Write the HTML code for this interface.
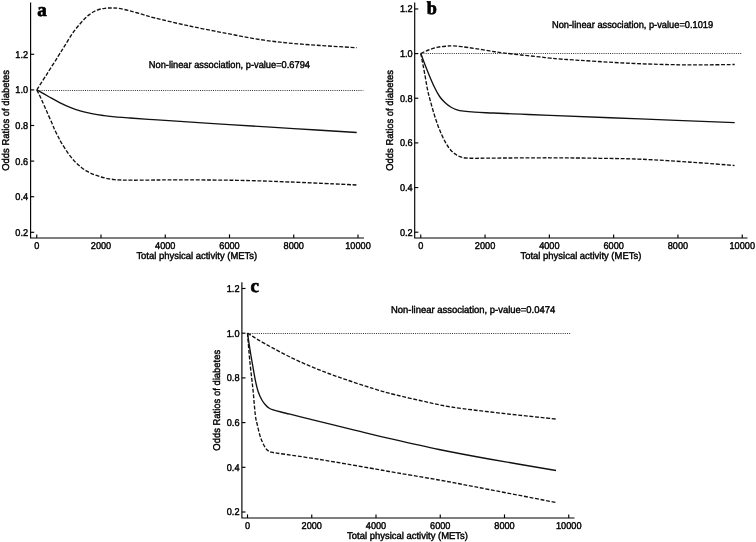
<!DOCTYPE html>
<html lang="en"><head><meta charset="utf-8"><title>Odds ratios of diabetes by total physical activity</title>
<style>html,body{margin:0;padding:0;background:#fff}svg{display:block;filter:grayscale(1)}.ax{stroke:#000;stroke-width:1.15;fill:none;stroke-linecap:butt}.cv{stroke:#111;stroke-width:1.35;fill:none;stroke-linejoin:round}.ds{stroke-dasharray:3.9 1.7}.dt{stroke:#333;stroke-width:1;stroke-dasharray:1 1.17;fill:none}text{font-family:"Liberation Sans",Arial,Helvetica,sans-serif;fill:#000;stroke:#000;stroke-width:0.42px;text-rendering:geometricPrecision}.tk{font-size:9.9px}.tt{font-size:9.9px}.an{font-size:9.9px}.lb{font-family:"Liberation Serif","Times New Roman",serif;font-weight:bold;font-size:19px;fill:#000;stroke-width:0.7px}</style></head><body>
<svg width="756" height="542" viewBox="0 0 756 542">
<rect width="756" height="542" fill="#fff"/>
<g id="panel-a">
<path class="ax" d="M30.60 2.50 V238.00 H364.00"/>
<path class="ax" d="M30.60 54.30 h3.60"/>
<text class="tk" transform="translate(28.10 57.70) scale(0.93 1)" text-anchor="end">1.2</text>
<path class="ax" d="M30.60 89.90 h3.60"/>
<text class="tk" transform="translate(28.10 93.30) scale(0.93 1)" text-anchor="end">1.0</text>
<path class="ax" d="M30.60 125.50 h3.60"/>
<text class="tk" transform="translate(28.10 128.90) scale(0.93 1)" text-anchor="end">0.8</text>
<path class="ax" d="M30.60 161.10 h3.60"/>
<text class="tk" transform="translate(28.10 164.50) scale(0.93 1)" text-anchor="end">0.6</text>
<path class="ax" d="M30.60 196.70 h3.60"/>
<text class="tk" transform="translate(28.10 200.10) scale(0.93 1)" text-anchor="end">0.4</text>
<path class="ax" d="M30.60 232.30 h3.60"/>
<text class="tk" transform="translate(28.10 235.70) scale(0.93 1)" text-anchor="end">0.2</text>
<path class="ax" d="M36.75 238.00 v-3.60"/>
<text class="tk" transform="translate(36.75 249.30) scale(0.93 1)" text-anchor="middle">0</text>
<path class="ax" d="M101.00 238.00 v-3.60"/>
<text class="tk" transform="translate(101.00 249.30) scale(0.93 1)" text-anchor="middle">2000</text>
<path class="ax" d="M165.25 238.00 v-3.60"/>
<text class="tk" transform="translate(165.25 249.30) scale(0.93 1)" text-anchor="middle">4000</text>
<path class="ax" d="M229.50 238.00 v-3.60"/>
<text class="tk" transform="translate(229.50 249.30) scale(0.93 1)" text-anchor="middle">6000</text>
<path class="ax" d="M293.75 238.00 v-3.60"/>
<text class="tk" transform="translate(293.75 249.30) scale(0.93 1)" text-anchor="middle">8000</text>
<path class="ax" d="M358.00 238.00 v-3.60"/>
<text class="tk" transform="translate(358.00 249.30) scale(0.93 1)" text-anchor="middle">10000</text>
<text class="tt" transform="translate(196.78 258.50) scale(0.957 1)" text-anchor="middle">Total physical activity (METs)</text>
<text class="tt" transform="translate(8.60 120.35) rotate(-90) scale(0.957 1)" text-anchor="middle">Odds Ratios of diabetes</text>
<path class="dt" d="M37.25 90.50 H363.30"/>
<path class="cv ds" d="M36.80 89.80 C38.57 87.05 43.88 78.82 47.40 73.30 C50.92 67.78 55.02 61.28 57.90 56.70 C60.78 52.12 62.17 49.83 64.70 45.80 C67.23 41.77 70.32 36.42 73.10 32.50 C75.88 28.58 78.70 25.28 81.40 22.30 C84.10 19.32 86.67 16.63 89.30 14.60 C91.93 12.57 94.58 11.15 97.20 10.10 C99.82 9.05 102.58 8.65 105.00 8.30 C107.42 7.95 109.48 8.00 111.70 8.00 C113.92 8.00 115.25 7.83 118.30 8.30 C121.35 8.77 125.83 9.73 130.00 10.80 C134.17 11.87 139.13 13.50 143.30 14.70 C147.47 15.90 147.38 16.13 155.00 18.00 C162.62 19.87 177.07 23.33 189.00 25.90 C200.93 28.47 214.05 31.02 226.60 33.40 C239.15 35.78 251.73 38.40 264.30 40.20 C276.87 42.00 286.60 42.95 302.00 44.20 C317.40 45.45 347.58 47.12 356.70 47.70"/>
<path class="cv ds" d="M36.80 90.00 C37.52 91.43 39.45 95.05 41.10 98.60 C42.75 102.15 44.85 107.10 46.70 111.30 C48.55 115.50 50.92 120.82 52.20 123.80 C53.48 126.78 53.47 127.17 54.40 129.20 C55.33 131.23 56.68 133.82 57.80 136.00 C58.92 138.18 59.43 139.50 61.10 142.30 C62.77 145.10 65.58 149.67 67.80 152.80 C70.02 155.93 72.18 158.70 74.40 161.10 C76.62 163.50 78.87 165.43 81.10 167.20 C83.33 168.97 85.58 170.43 87.80 171.70 C90.02 172.97 92.18 173.92 94.40 174.80 C96.62 175.68 98.87 176.37 101.10 177.00 C103.33 177.63 105.58 178.17 107.80 178.60 C110.02 179.03 112.18 179.37 114.40 179.60 C116.62 179.83 118.13 179.90 121.10 180.00 C124.07 180.10 127.38 180.18 132.20 180.20 C137.02 180.22 143.88 180.15 150.00 180.10 C156.12 180.05 158.90 179.92 168.90 179.90 C178.90 179.88 196.48 179.88 210.00 180.00 C223.52 180.12 236.67 180.27 250.00 180.60 C263.33 180.93 276.00 181.45 290.00 182.00 C304.00 182.55 322.88 183.40 334.00 183.90 C345.12 184.40 352.92 184.82 356.70 185.00"/>
<path class="cv" d="M36.80 89.90 C38.75 91.00 44.70 94.38 48.50 96.50 C52.30 98.62 55.90 100.75 59.60 102.60 C63.30 104.45 66.98 106.15 70.70 107.60 C74.42 109.05 78.18 110.25 81.90 111.30 C85.62 112.35 89.30 113.18 93.00 113.90 C96.70 114.62 100.40 115.10 104.10 115.60 C107.80 116.10 110.88 116.50 115.20 116.90 C119.52 117.30 124.45 117.60 130.00 118.00 C135.55 118.40 142.02 118.87 148.50 119.30 C154.98 119.73 155.40 119.72 168.90 120.60 C182.40 121.48 208.69 123.27 229.50 124.60 C250.31 125.93 272.55 127.28 293.75 128.60 C314.95 129.92 346.21 131.85 356.70 132.50"/>
<text class="an" x="148.80" y="68.30" textLength="161.2" lengthAdjust="spacingAndGlyphs">Non-linear association, p-value=0.6794</text>
<text class="lb" x="37.30" y="16.10" style="font-size:19px">a</text>
</g>
<g id="panel-b">
<path class="ax" d="M414.70 2.50 V238.00 H747.50"/>
<path class="ax" d="M414.70 8.95 h3.60"/>
<text class="tk" transform="translate(412.70 12.35) scale(0.93 1)" text-anchor="end">1.2</text>
<path class="ax" d="M414.70 53.60 h3.60"/>
<text class="tk" transform="translate(412.70 57.00) scale(0.93 1)" text-anchor="end">1.0</text>
<path class="ax" d="M414.70 98.25 h3.60"/>
<text class="tk" transform="translate(412.70 101.65) scale(0.93 1)" text-anchor="end">0.8</text>
<path class="ax" d="M414.70 142.90 h3.60"/>
<text class="tk" transform="translate(412.70 146.30) scale(0.93 1)" text-anchor="end">0.6</text>
<path class="ax" d="M414.70 187.55 h3.60"/>
<text class="tk" transform="translate(412.70 190.95) scale(0.93 1)" text-anchor="end">0.4</text>
<path class="ax" d="M414.70 232.20 h3.60"/>
<text class="tk" transform="translate(412.70 235.60) scale(0.93 1)" text-anchor="end">0.2</text>
<path class="ax" d="M420.75 238.00 v-3.60"/>
<text class="tk" transform="translate(420.75 249.30) scale(0.93 1)" text-anchor="middle">0</text>
<path class="ax" d="M485.05 238.00 v-3.60"/>
<text class="tk" transform="translate(485.05 249.30) scale(0.93 1)" text-anchor="middle">2000</text>
<path class="ax" d="M549.35 238.00 v-3.60"/>
<text class="tk" transform="translate(549.35 249.30) scale(0.93 1)" text-anchor="middle">4000</text>
<path class="ax" d="M613.65 238.00 v-3.60"/>
<text class="tk" transform="translate(613.65 249.30) scale(0.93 1)" text-anchor="middle">6000</text>
<path class="ax" d="M677.95 238.00 v-3.60"/>
<text class="tk" transform="translate(677.95 249.30) scale(0.93 1)" text-anchor="middle">8000</text>
<path class="ax" d="M742.25 238.00 v-3.60"/>
<text class="tk" transform="translate(742.25 249.30) scale(0.93 1)" text-anchor="middle">10000</text>
<text class="tt" transform="translate(580.90 258.50) scale(0.957 1)" text-anchor="middle">Total physical activity (METs)</text>
<text class="tt" transform="translate(392.80 120.35) rotate(-90) scale(0.957 1)" text-anchor="middle">Odds Ratios of diabetes</text>
<path class="dt" d="M421.25 53.50 H742.20"/>
<path class="cv ds" d="M420.80 53.40 C422.08 52.83 425.67 51.03 428.50 50.00 C431.33 48.97 434.72 47.85 437.80 47.20 C440.88 46.55 444.53 46.32 447.00 46.10 C449.47 45.88 450.12 45.80 452.60 45.90 C455.08 46.00 458.20 46.27 461.90 46.70 C465.60 47.13 470.18 47.80 474.80 48.50 C479.42 49.20 484.97 50.18 489.60 50.90 C494.23 51.62 497.35 52.12 502.60 52.80 C507.85 53.48 514.93 54.32 521.10 55.00 C527.27 55.68 534.78 56.38 539.60 56.90 C544.42 57.42 545.43 57.67 550.00 58.10 C554.57 58.53 553.67 58.63 567.00 59.50 C580.33 60.37 611.17 62.42 630.00 63.30 C648.83 64.18 666.67 64.55 680.00 64.80 C693.33 65.05 700.88 64.85 710.00 64.80 C719.12 64.75 730.58 64.55 734.70 64.50"/>
<path class="cv ds" d="M420.80 53.40 C421.47 56.90 423.67 68.30 424.80 74.40 C425.93 80.50 426.67 85.55 427.60 90.00 C428.53 94.45 429.32 97.08 430.40 101.10 C431.48 105.12 432.87 110.08 434.10 114.10 C435.33 118.12 436.57 121.82 437.80 125.20 C439.03 128.58 440.27 131.62 441.50 134.40 C442.73 137.18 443.97 139.67 445.20 141.90 C446.43 144.13 447.67 146.12 448.90 147.80 C450.13 149.48 451.37 150.83 452.60 152.00 C453.83 153.17 455.07 154.02 456.30 154.80 C457.53 155.58 458.45 156.17 460.00 156.70 C461.55 157.23 463.13 157.73 465.60 158.00 C468.07 158.27 470.18 158.28 474.80 158.30 C479.42 158.32 480.77 158.18 493.30 158.10 C505.83 158.02 532.22 157.77 550.00 157.80 C567.78 157.83 584.67 158.06 600.00 158.30 C615.33 158.54 626.67 158.59 642.00 159.25 C657.33 159.91 676.58 161.21 692.00 162.25 C707.42 163.29 727.42 164.96 734.50 165.50"/>
<path class="cv" d="M420.80 53.40 C421.47 55.22 423.52 60.95 424.80 64.30 C426.08 67.65 426.95 69.80 428.50 73.50 C430.05 77.20 432.25 82.67 434.10 86.50 C435.95 90.33 437.75 93.78 439.60 96.50 C441.45 99.22 443.35 101.05 445.20 102.80 C447.05 104.55 448.85 105.87 450.70 107.00 C452.55 108.13 454.13 108.90 456.30 109.60 C458.47 110.30 460.62 110.77 463.70 111.20 C466.78 111.63 469.87 111.90 474.80 112.20 C479.73 112.50 485.58 112.67 493.30 113.00 C501.02 113.33 511.65 113.80 521.10 114.20 C530.55 114.60 530.18 114.62 550.00 115.40 C569.82 116.18 609.22 117.68 640.00 118.90 C670.78 120.12 718.92 122.07 734.70 122.70"/>
<text class="an" x="552.00" y="28.00" textLength="161.2" lengthAdjust="spacingAndGlyphs">Non-linear association, p-value=0.1019</text>
<text class="lb" x="426.80" y="13.80" style="font-size:18.2px">b</text>
</g>
<g id="panel-c">
<path class="ax" d="M241.90 282.30 V518.00 H574.50"/>
<path class="ax" d="M241.90 288.50 h3.60"/>
<text class="tk" transform="translate(239.50 291.90) scale(0.93 1)" text-anchor="end">1.2</text>
<path class="ax" d="M241.90 333.20 h3.60"/>
<text class="tk" transform="translate(239.50 336.60) scale(0.93 1)" text-anchor="end">1.0</text>
<path class="ax" d="M241.90 377.90 h3.60"/>
<text class="tk" transform="translate(239.50 381.30) scale(0.93 1)" text-anchor="end">0.8</text>
<path class="ax" d="M241.90 422.60 h3.60"/>
<text class="tk" transform="translate(239.50 426.00) scale(0.93 1)" text-anchor="end">0.6</text>
<path class="ax" d="M241.90 467.30 h3.60"/>
<text class="tk" transform="translate(239.50 470.70) scale(0.93 1)" text-anchor="end">0.4</text>
<path class="ax" d="M241.90 512.00 h3.60"/>
<text class="tk" transform="translate(239.50 515.40) scale(0.93 1)" text-anchor="end">0.2</text>
<path class="ax" d="M247.50 518.00 v-3.60"/>
<text class="tk" transform="translate(247.50 529.30) scale(0.93 1)" text-anchor="middle">0</text>
<path class="ax" d="M311.75 518.00 v-3.60"/>
<text class="tk" transform="translate(311.75 529.30) scale(0.93 1)" text-anchor="middle">2000</text>
<path class="ax" d="M376.00 518.00 v-3.60"/>
<text class="tk" transform="translate(376.00 529.30) scale(0.93 1)" text-anchor="middle">4000</text>
<path class="ax" d="M440.25 518.00 v-3.60"/>
<text class="tk" transform="translate(440.25 529.30) scale(0.93 1)" text-anchor="middle">6000</text>
<path class="ax" d="M504.50 518.00 v-3.60"/>
<text class="tk" transform="translate(504.50 529.30) scale(0.93 1)" text-anchor="middle">8000</text>
<path class="ax" d="M568.75 518.00 v-3.60"/>
<text class="tk" transform="translate(568.75 529.30) scale(0.93 1)" text-anchor="middle">10000</text>
<text class="tt" transform="translate(407.52 538.50) scale(0.957 1)" text-anchor="middle">Total physical activity (METs)</text>
<text class="tt" transform="translate(220.40 400.25) rotate(-90) scale(0.957 1)" text-anchor="middle">Odds Ratios of diabetes</text>
<path class="dt" d="M248.00 333.50 H570.20"/>
<path class="cv ds" d="M247.50 333.10 C249.28 334.22 253.95 337.30 258.20 339.80 C262.45 342.30 267.43 345.10 273.00 348.10 C278.57 351.10 285.42 354.80 291.60 357.80 C297.78 360.80 303.93 363.48 310.10 366.10 C316.27 368.72 322.43 371.18 328.60 373.50 C334.77 375.82 340.93 377.90 347.10 380.00 C353.27 382.10 360.78 384.53 365.60 386.10 C370.42 387.67 372.10 388.22 376.00 389.40 C379.90 390.58 381.67 391.35 389.00 393.20 C396.33 395.05 409.58 398.20 420.00 400.50 C430.42 402.80 437.92 404.88 451.50 407.00 C465.08 409.12 484.08 411.25 501.50 413.25 C518.92 415.25 546.92 418.04 556.00 419.00"/>
<path class="cv ds" d="M247.50 333.10 C247.90 337.92 248.98 352.55 249.90 362.00 C250.82 371.45 252.10 380.97 253.00 389.80 C253.90 398.63 254.60 409.25 255.30 415.00 C256.00 420.75 256.43 420.90 257.20 424.30 C257.97 427.70 258.98 432.32 259.90 435.40 C260.82 438.48 261.78 440.73 262.70 442.80 C263.62 444.87 264.52 446.50 265.40 447.80 C266.28 449.10 267.00 449.87 268.00 450.60 C269.00 451.33 269.95 451.78 271.40 452.20 C272.85 452.62 273.33 452.60 276.70 453.10 C280.07 453.60 284.50 454.15 291.60 455.20 C298.70 456.25 310.05 457.92 319.30 459.40 C328.55 460.88 337.65 462.48 347.10 464.10 C356.55 465.72 369.02 467.87 376.00 469.10 C382.98 470.33 378.50 469.68 389.00 471.50 C399.50 473.32 422.33 477.00 439.00 480.00 C455.67 483.00 469.50 485.75 489.00 489.50 C508.50 493.25 544.83 500.33 556.00 502.50"/>
<path class="cv" d="M247.50 333.10 C247.90 335.77 249.03 343.67 249.90 349.10 C250.77 354.53 251.78 360.45 252.70 365.70 C253.62 370.95 254.48 376.27 255.40 380.60 C256.32 384.93 257.12 388.47 258.20 391.70 C259.28 394.93 260.67 397.78 261.90 400.00 C263.13 402.22 264.37 403.63 265.60 405.00 C266.83 406.37 268.02 407.40 269.30 408.20 C270.58 409.00 271.35 409.17 273.30 409.80 C275.25 410.43 278.22 411.27 281.00 412.00 C283.78 412.73 285.17 413.00 290.00 414.20 C294.83 415.40 302.95 417.45 310.00 419.20 C317.05 420.95 323.97 422.67 332.30 424.70 C340.63 426.73 350.55 429.12 360.00 431.40 C369.45 433.68 375.83 435.38 389.00 438.40 C402.17 441.42 422.33 446.07 439.00 449.50 C455.67 452.93 469.50 455.50 489.00 459.00 C508.50 462.50 544.83 468.58 556.00 470.50"/>
<text class="an" x="391.00" y="313.20" textLength="164.2" lengthAdjust="spacingAndGlyphs">Non-linear association, p-value=0.0474</text>
<text class="lb" x="250.60" y="292.20" style="font-size:19px">c</text>
</g>
</svg></body></html>
